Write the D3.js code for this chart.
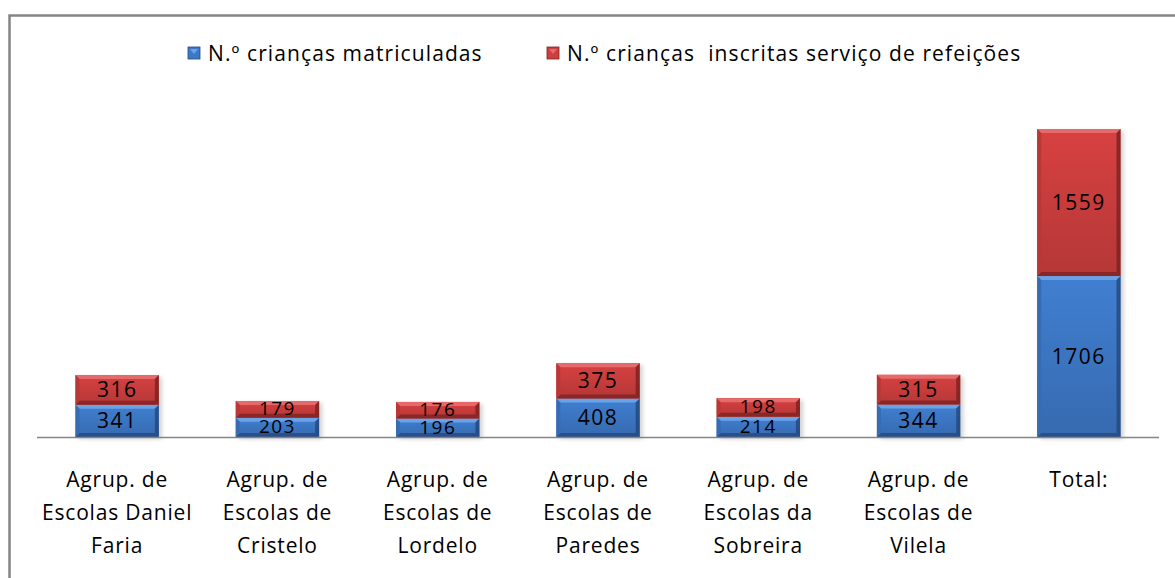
<!DOCTYPE html>
<html>
<head>
<meta charset="utf-8">
<script src="https://cdn.jsdelivr.net/npm/d3@7"></script>
<style>
  body { margin: 0; background: #fff; }
  text { font-family: "Open Sans", Lato, sans-serif; }
</style>
</head>
<body>
<div id="chart"></div>
<script>
// data
const categories = ["Agrup. de|Escolas Daniel|Faria", "Agrup. de|Escolas de|Cristelo",
  "Agrup. de|Escolas de|Lordelo", "Agrup. de|Escolas de|Paredes",
  "Agrup. de|Escolas da|Sobreira", "Agrup. de|Escolas de|Vilela", "Total:"];
const matriculadas = [341, 203, 196, 408, 214, 344, 1706];
const inscritas = [316, 179, 176, 375, 198, 315, 1559];
const seriesNames = ["N.º crianças matriculadas", "N.º crianças  inscritas serviço de refeições"];

const width = 1175, height = 578;
const colors = [{base: "#3d78c6", light: "#6aa2e8", dark: "#24497e"},
                {base: "#cd3e3e", light: "#e66a6a", dark: "#7e2222"}];

const svg = d3.select("#chart").append("svg")
  .attr("width", width).attr("height", height);

// chart border
svg.append("rect").attr("x", 9.5).attr("y", 15.5)
  .attr("width", 1200).attr("height", 600)
  .attr("fill", "none").attr("stroke", "#858585").attr("stroke-width", 2.5);

const defs = svg.append("defs");
colors.forEach((c, i) => {
  const g = defs.append("linearGradient").attr("id", "grad" + i)
    .attr("x1", 0).attr("y1", 0).attr("x2", 0).attr("y2", 1);
  g.append("stop").attr("offset", "0%").attr("stop-color", d3.color(c.base).brighter(0.15));
  g.append("stop").attr("offset", "100%").attr("stop-color", d3.color(c.base).darker(0.35));
});
defs.append("filter").attr("id", "shadow").attr("x", "-20%").attr("y", "-20%")
  .attr("width", "140%").attr("height", "140%")
  .append("feGaussianBlur").attr("stdDeviation", 2);

const baseline = 437;
const x = d3.scaleBand().domain(d3.range(categories.length))
  .range([37, 1159]).paddingInner(0.48).paddingOuter(0.24);
const y = d3.scaleLinear().domain([0, 3265]).range([baseline, 129]);

const stacked = d3.stack().keys([0, 1])(
  matriculadas.map((m, i) => ({0: m, 1: inscritas[i]})));

const plot = svg.append("g");

// shadows
plot.selectAll(".shadow").data(categories).enter().append("rect")
  .attr("x", (d, i) => x(i) + 3).attr("width", x.bandwidth())
  .attr("y", (d, i) => y(matriculadas[i] + inscritas[i]) + 2)
  .attr("height", (d, i) => baseline - y(matriculadas[i] + inscritas[i]))
  .attr("fill", "#000").attr("opacity", 0.18).attr("filter", "url(#shadow)");

const bev = 4;
stacked.forEach((layer, s) => {
  const c = colors[s];
  const g = plot.append("g");
  layer.forEach((d, i) => {
    const x0 = x(i), x1 = x(i) + x.bandwidth();
    const y0 = y(d[1]), y1 = y(d[0]);
    const b = Math.min(bev, (y1 - y0) / 3);
    g.append("rect").attr("x", x0).attr("y", y0).attr("width", x1 - x0).attr("height", y1 - y0)
      .attr("fill", "url(#grad" + s + ")");
    // bevel edges
    g.append("polygon").attr("points", [[x0, y0], [x1, y0], [x1 - b, y0 + b], [x0 + b, y0 + b]].join(" "))
      .attr("fill", c.light);
    g.append("polygon").attr("points", [[x0, y1], [x1, y1], [x1 - b, y1 - b], [x0 + b, y1 - b]].join(" "))
      .attr("fill", c.dark).attr("opacity", 0.8);
    g.append("polygon").attr("points", [[x0, y0], [x0 + b, y0 + b], [x0 + b, y1 - b], [x0, y1]].join(" "))
      .attr("fill", d3.color(c.base).darker(0.3));
    g.append("polygon").attr("points", [[x1, y0], [x1 - b, y0 + b], [x1 - b, y1 - b], [x1, y1]].join(" "))
      .attr("fill", c.dark).attr("opacity", 0.85);
    const small = (y1 - y0) < 22;
    g.append("text").attr("x", (x0 + x1) / 2).attr("y", (y0 + y1) / 2 + (small ? 6 : 7))
      .attr("text-anchor", "middle").attr("font-size", small ? 19 : 21).attr("fill", "#000")
      .attr("letter-spacing", 1.5).text(d[1] - d[0]);
  });
});

// axis line
svg.append("line").attr("x1", 37).attr("x2", 1159).attr("y1", baseline + 0.5).attr("y2", baseline + 0.5)
  .attr("stroke", "#858585").attr("stroke-width", 1.5);

// category labels
categories.forEach((cat, i) => {
  const t = svg.append("text").attr("text-anchor", "middle").attr("font-size", 21)
    .attr("letter-spacing", 0.8).attr("fill", "#000");
  cat.split("|").forEach((line, k) => {
    t.append("tspan").attr("x", x(i) + x.bandwidth() / 2).attr("y", 487 + k * 33).text(line);
  });
});

// legend
const legendX = [188, 547];
seriesNames.forEach((name, s) => {
  const c = colors[s];
  const lx = legendX[s], ly = 47;
  svg.append("rect").attr("x", lx).attr("y", ly).attr("width", 12).attr("height", 12)
    .attr("fill", c.base).attr("stroke", c.dark).attr("stroke-width", 0.8);
  svg.append("polygon").attr("points", [[lx + 2, ly + 2], [lx + 10, ly + 2], [lx + 6, ly + 7]].join(" "))
    .attr("fill", c.light);
  svg.append("text").attr("x", lx + 20).attr("y", ly + 14).attr("font-size", 21)
    .attr("letter-spacing", 1.1).attr("fill", "#000").style("white-space", "pre").text(name);
});
</script>
</body>
</html>
